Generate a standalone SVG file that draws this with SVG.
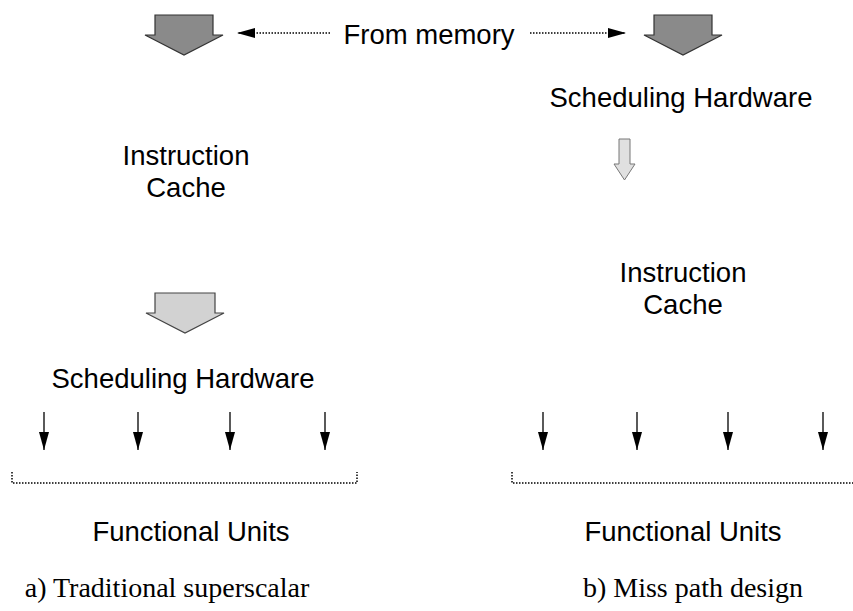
<svg xmlns="http://www.w3.org/2000/svg" width="853" height="611" viewBox="0 0 853 611">
<defs>
<marker id="ahd" markerWidth="18" markerHeight="10" refX="18" refY="5" orient="auto" markerUnits="userSpaceOnUse"><path d="M0,0 L18,5 L0,10 z" fill="#000"/></marker>
<marker id="ahs" markerWidth="18" markerHeight="10" refX="17" refY="5" orient="auto" markerUnits="userSpaceOnUse"><path d="M0,0 L18,5 L0,10 z" fill="#000"/></marker>
</defs>
<style>
.t{font-family:"Liberation Sans",Arial,sans-serif;font-size:27.5px;fill:#000;text-anchor:middle}
.c{font-family:"Liberation Serif","Times New Roman",serif;font-size:28px;fill:#000;text-anchor:middle}
.dark{fill:#8a8a8a;stroke:#333;stroke-width:1.2}
.light{fill:#d2d2d2;stroke:#444;stroke-width:1.2}
.pale{fill:#e0e0e0;stroke:#777;stroke-width:1}
.dot{fill:none;stroke:#000;stroke-width:1.5;stroke-dasharray:1.5 1.5}
.sa{fill:none;stroke:#000;stroke-width:1.3}
</style>
<rect width="853" height="611" fill="#fff"/>
<g id="mem-arrow-left"><path class="dark" d="M155,15 H213 V35 H223 L184,55 L145,35 H155 Z"/></g>
<g id="mem-arrow-right"><path class="dark" d="M654,15 H712 V35 H722 L683,55 L644,35 H654 Z"/></g>
<g id="from-memory"><text class="t" x="429" y="44">From memory</text></g>
<g id="icache-a"><text class="t" x="186" y="165">Instruction</text><text class="t" x="186" y="197">Cache</text></g>
<g id="arrow-a"><path class="light" d="M155,293 H215 V313 H224 L185,333 L146,313 H155 Z"/></g>
<g id="sched-a"><text class="t" x="183" y="388">Scheduling Hardware</text></g>
<g id="sched-b"><text class="t" x="681" y="107">Scheduling Hardware</text></g>
<g id="arrow-b"><path class="pale" d="M619,139 H630 V164 H635 L624.5,180 L614,164 H619 Z"/></g>
<g id="icache-b"><text class="t" x="683" y="282">Instruction</text><text class="t" x="683" y="314">Cache</text></g>
<g id="fu-a"><path class="dot" d="M12,472 V483 H357 V472"/><text class="t" x="191" y="541">Functional Units</text></g>
<g id="fu-b"><path class="dot" d="M512,472 V483 H853"/><text class="t" x="683" y="541">Functional Units</text></g>
<g id="captions"><text class="c" x="167" y="597">a) Traditional superscalar</text><text class="c" x="693" y="597">b) Miss path design</text></g>
<g id="connectors">
<path class="dot" d="M330,33 H238" marker-end="url(#ahs)"/>
<path class="dot" d="M530,33 H625" marker-end="url(#ahs)"/>
<path class="sa" d="M44,412 V450" marker-end="url(#ahd)"/>
<path class="sa" d="M138,412 V450" marker-end="url(#ahd)"/>
<path class="sa" d="M230,412 V450" marker-end="url(#ahd)"/>
<path class="sa" d="M325,412 V450" marker-end="url(#ahd)"/>
<path class="sa" d="M543,412 V450" marker-end="url(#ahd)"/>
<path class="sa" d="M637,412 V450" marker-end="url(#ahd)"/>
<path class="sa" d="M728,412 V450" marker-end="url(#ahd)"/>
<path class="sa" d="M823,412 V450" marker-end="url(#ahd)"/>
</g>
</svg>
